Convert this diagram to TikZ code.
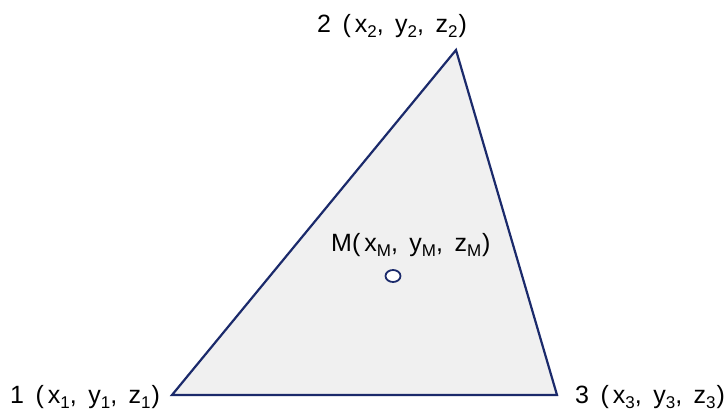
\documentclass[tikz,border=0pt]{standalone}
\usepackage{fontspec}
\setmainfont{Liberation Sans}
\usetikzlibrary{shapes.geometric}
\newcommand\subs[1]{\raisebox{-5pt}{\fontsize{17}{17}\selectfont #1}}
\newcommand\gap{\hspace{11.5pt}}
\newcommand\trip[3]{(\kern4pt#1\subs{#3},\gap #2\subs{#3},\gap z\subs{#3}\kern1pt)}
\begin{document}
\begin{tikzpicture}[x=1pt,y=-1pt,
  edge/.style={draw=navy, line width=2.2pt, line join=miter},
  lbl/.style={inner sep=0pt, font=\fontsize{25}{25}\selectfont}]
\definecolor{navy}{HTML}{1B2A6B}
\definecolor{tri}{HTML}{F0F0F0}
\useasboundingbox (0,0) rectangle (727,411);
\coordinate (p1) at (172,395);
\coordinate (p2) at (456,50);
\coordinate (p3) at (557,395);
\fill[tri] (p1) -- (p2) -- (p3) -- cycle;
\draw[edge] (p1) -- (p2) -- (p3) -- cycle;
\node[draw=navy, line width=1.8pt, fill=white, ellipse, minimum width=15pt, minimum height=12pt, inner sep=0pt] (m) at (393,276) {};
\node[lbl, anchor=base] (l2) at (392,33) {2\gap\trip{x}{y}{2}};
\node[lbl, anchor=base west] (l1) at (10,403) {1\gap\trip{x}{y}{1}};
\node[lbl, anchor=base west] (l3) at (575,403) {3\gap\trip{x}{y}{3}};
\node[lbl, anchor=base west] (lm) at (331,252) {M\trip{x}{y}{M}};
\end{tikzpicture}
\end{document}
